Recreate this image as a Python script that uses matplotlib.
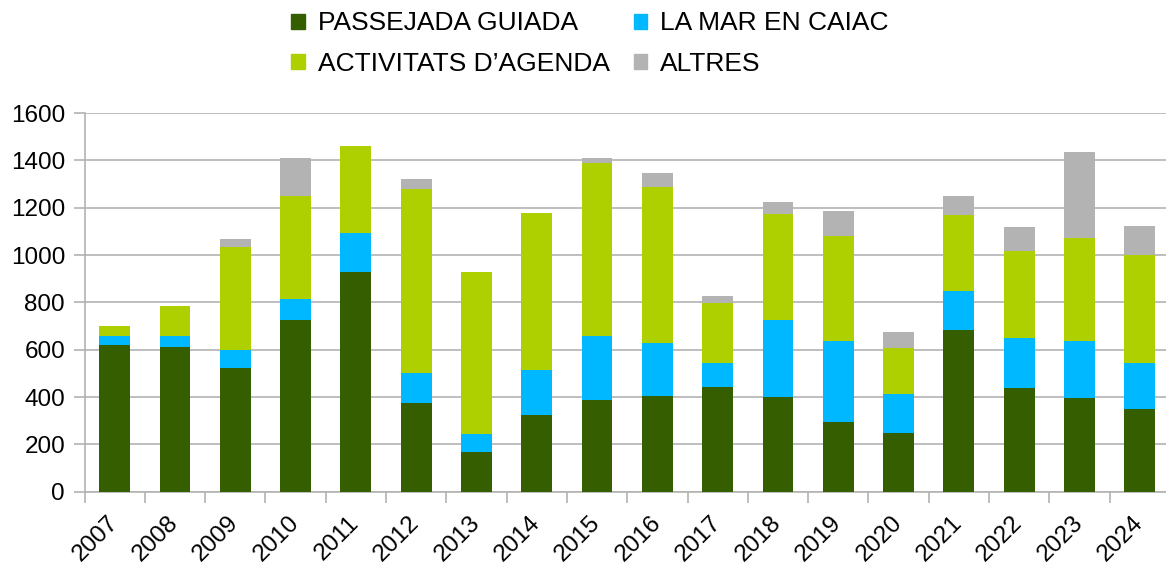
import numpy as np
from matplotlib import pyplot as plt
from matplotlib.patches import Rectangle

plt.rcParams['font.family'] = ['Liberation Sans', 'DejaVu Sans']

years = ['2007', '2008', '2009', '2010', '2011', '2012', '2013', '2014', '2015',
         '2016', '2017', '2018', '2019', '2020', '2021', '2022', '2023', '2024']

# valors per categoria (llegits del gràfic)
passejada = [619, 611, 522, 725, 927, 374, 167, 324, 387, 404, 442, 400, 294, 248, 682, 438, 395, 349]
caiac = [38, 46, 77, 88, 165, 127, 78, 190, 270, 224, 101, 325, 342, 164, 165, 211, 241, 194]
agenda = [42, 127, 434, 438, 367, 777, 682, 662, 730, 658, 253, 447, 443, 194, 321, 367, 436, 456]
altres = [0, 0, 33, 157, 0, 42, 0, 0, 21, 59, 30, 51, 106, 68, 80, 101, 362, 122]

labels = ['PASSEJADA GUIADA', 'LA MAR EN CAIAC', 'ACTIVITATS D\u2019AGENDA', 'ALTRES']
colors = ['#355e00', '#00b8ff', '#aecf00', '#b3b3b3']
grid_col = '#b3b3b3'


def build_graphics(output_png):
    fig = plt.figure(figsize=(11.66, 5.67), dpi=100)
    ax = fig.add_axes([84.5 / 1166, 1 - 491.7 / 567, 1085.4 / 1166, 378.7 / 567])

    x = np.arange(len(years))
    bottom = np.zeros(len(years))
    for vals, col in zip([passejada, caiac, agenda, altres], colors):
        ax.bar(x, vals, width=0.51, bottom=bottom, color=col, zorder=3)
        bottom += np.array(vals)

    ax.set_xlim(-0.5, len(years) - 0.5)
    ax.set_ylim(0, 1600)
    ax.set_yticks(range(0, 1601, 200))
    ax.grid(axis='y', color=grid_col, linewidth=1.2, zorder=0)

    ax.set_xticks(np.arange(len(years) + 1) - 0.5)
    ax.set_xticklabels([])
    ax.set_xticks(x, minor=True)
    ax.set_xticklabels(years, minor=True, rotation=45, ha='right', va='center',
                       rotation_mode='anchor', fontsize=17.5)
    ax.tick_params(axis='x', which='minor', length=0, pad=20)
    ax.tick_params(axis='x', which='major', length=8, color=grid_col, width=1.2)
    ax.tick_params(axis='y', length=8, color=grid_col, width=1.2, labelsize=17.5, pad=6)

    for side in ['top', 'right']:
        ax.spines[side].set_visible(False)
    for side in ['left', 'bottom']:
        ax.spines[side].set_color(grid_col)
        ax.spines[side].set_linewidth(1.2)

    handles = [Rectangle((0, 0), 1, 1, color=c) for c in colors]
    order = [0, 2, 1, 3]
    fig.legend([handles[i] for i in order], [labels[i] for i in order],
               ncol=2, loc='upper center', bbox_to_anchor=(0.506, 1.0217),
               frameon=False, fontsize=19, handlelength=0.5, handleheight=0.5,
               handletextpad=0.5, columnspacing=0.9, labelspacing=0.62)

    fig.savefig(output_png)


def main():
    build_graphics('out.png')


if __name__ == '__main__':
    main()
